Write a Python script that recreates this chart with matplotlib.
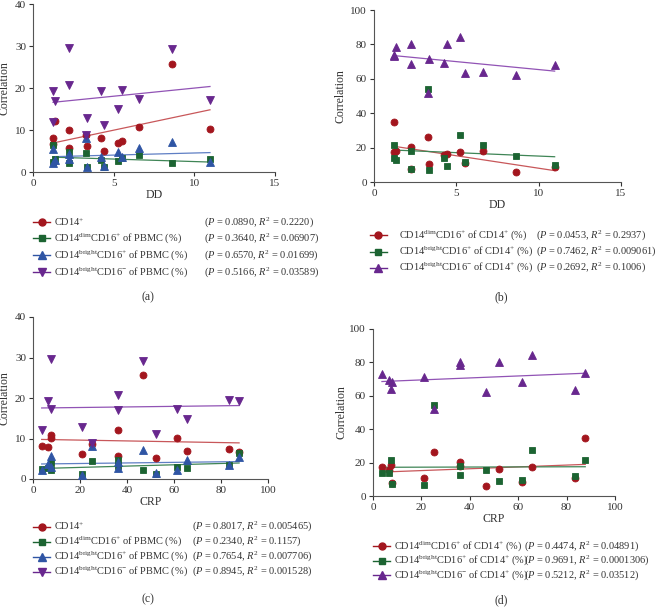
import numpy as np
import matplotlib
matplotlib.use("Agg")
from matplotlib import pyplot as plt
from matplotlib.lines import Line2D

plt.rcParams['font.family'] = ['Liberation Serif', 'DejaVu Serif']
plt.rcParams['mathtext.fontset'] = 'custom'
plt.rcParams['mathtext.rm'] = 'Liberation Serif'
plt.rcParams['mathtext.it'] = 'Liberation Serif:italic'

# one value per patient (14 patients)
dd = [1.24, 1.24, 1.36, 2.23, 2.25, 3.30, 3.33, 4.24, 4.42, 5.25, 5.54, 6.59, 8.64, 10.97]
crp = [87.7, 3.7, 36.0, 36.0, 7.7, 25.2, 21.0, 6.5, 52.2, 65.7, 83.4, 7.5, 46.9, 61.4]

cd14 = [6.6, 8.2, 12.1, 5.7, 10.1, 8.7, 6.2, 8.0, 5.1, 7.0, 7.4, 10.8, 25.7, 10.2]
dim_pbmc = [6.5, 2.5, 3.2, 4.8, 2.2, 4.5, 1.3, 2.8, 1.3, 2.6, 3.4, 4.0, 2.2, 3.0]
brpos_pbmc = [5.4, 2.2, 2.8, 4.3, 3.0, 8.2, 1.1, 3.6, 1.4, 4.8, 3.5, 5.6, 7.2, 2.3]
brneg_pbmc = [19.3, 12.0, 17.0, 20.8, 29.6, 8.8, 12.8, 19.2, 11.2, 14.9, 19.6, 17.4, 29.2, 17.2]

dim_cd14 = [34.7, 17.2, 18.0, 20.3, 7.8, 26.1, 10.5, 15.5, 16.4, 17.4, 11.0, 18.3, 5.7, 8.5]
brpos_cd14 = [21.3, 14.0, 12.6, 17.8, 7.3, 54.3, 6.8, 13.7, 9.2, 27.6, 11.7, 21.3, 15.4, 9.7]
brneg_cd14 = [73.6, 73.0, 78.5, 80.1, 68.4, 51.8, 71.5, 69.3, 80.5, 84.4, 63.4, 64.0, 62.0, 68.1]

lab_cd14 = 'CD14$^{+}$'
lab_dim_pbmc = 'CD14$^{\\mathrm{dim}}$CD16$^{+}$ of PBMC (%)'
lab_brpos_pbmc = 'CD14$^{\\mathrm{bright}}$CD16$^{+}$ of PBMC (%)'
lab_brneg_pbmc = 'CD14$^{\\mathrm{bright}}$CD16$^{-}$ of PBMC (%)'
lab_dim_cd14 = 'CD14$^{\\mathrm{dim}}$CD16$^{+}$ of CD14$^{+}$ (%)'
lab_brpos_cd14 = 'CD14$^{\\mathrm{bright}}$CD16$^{+}$ of CD14$^{+}$ (%)'
lab_brneg_cd14 = 'CD14$^{\\mathrm{bright}}$CD16$^{-}$ of CD14$^{+}$ (%)'

stats_a = [('0.0890', '0.2220'), ('0.3640', '0.06907'), ('0.6570', '0.01699'), ('0.5166', '0.03589')]
stats_b = [('0.0453', '0.2937'), ('0.7462', '0.009061'), ('0.2692', '0.1006')]
stats_c = [('0.8017', '0.005465'), ('0.2340', '0.1157'), ('0.7654', '0.007706'), ('0.8945', '0.001528')]
stats_d = [('0.4474', '0.04891'), ('0.9691', '0.0001306'), ('0.5212', '0.03512')]

RED, GREEN, BLUE, PURPLE = '#a3161e', '#1c6432', '#2f55a4', '#68278e'
LRED, LGREEN, LBLUE, LPURPLE = '#c8575a', '#3f8556', '#5f7fc4', '#9153b5'

W, H = 668, 613
fig = plt.figure(figsize=(W / 100, H / 100), dpi=100)


def ax_at(l, t, r, b):
    return fig.add_axes([l / W, 1 - b / H, (r - l) / W, (b - t) / H])


def panel(ax, x, series, xmax, ymax, xlabel, xticks, yticks, ylab_px):
    for y, c, lc, m, ms in series:
        ax.plot(x, y, ls='none', marker=m, ms=ms, color=c, mec=c, mew=0.6, zorder=3)
        k, b0 = np.polyfit(x, y, 1)
        xs = np.array([min(x), max(x)])
        ax.plot(xs, k * xs + b0, color=lc, lw=0.9, zorder=2)
    ax.set_xlim(0, xmax)
    ax.set_ylim(0, ymax)
    ax.set_xticks(xticks)
    ax.set_yticks(yticks)
    for s in ['top', 'right']:
        ax.spines[s].set_visible(False)
    for s in ['left', 'bottom']:
        ax.spines[s].set_color('#555555')
        ax.spines[s].set_linewidth(0.8)
    ax.tick_params(labelsize=8, colors='#333333', length=3, width=0.8, direction='out', pad=2)
    ax.set_ylabel('Correlation', fontsize=8.5, color='#333333')
    w_px = ax.get_position().width * W
    ax.yaxis.set_label_coords(-ylab_px / w_px, 0.5)
    ax.set_xlabel(xlabel, fontsize=8.5, color='#333333', labelpad=1)
    for ln in ax.lines:
        ln.set_clip_on(False)


def legend_rows(x0, xlab, xp, ys, items, stats):
    for yy, (c, m, ms, lab), (p, r2) in zip(ys, items, stats):
        fy = 1 - yy / H
        fig.add_artist(Line2D([x0 / W, (x0 + 17) / W], [fy, fy], color=c, lw=1.0,
                              transform=fig.transFigure))
        fig.add_artist(Line2D([(x0 + 8.5) / W], [fy], color=c, ls='none', marker=m, ms=ms,
                              transform=fig.transFigure))
        fig.text(xlab / W, fy, lab, fontsize=7.5, color='#333333', va='center', ha='left')
        fig.text(xp / W, fy, '($P$ = %s, $R^2$ = %s)' % (p, r2), fontsize=7.5,
                 color='#333333', va='center', ha='left')


four = [(RED, 'o', 5), (GREEN, 's', 5), (BLUE, '^', 5.5), (PURPLE, 'v', 5.5)]
three = [(RED, 'o', 5), (GREEN, 's', 5), (PURPLE, '^', 5.5)]

# (a)
ax = ax_at(33, 4, 275, 172)
panel(ax, dd, [(cd14, RED, LRED, 'o', 5), (dim_pbmc, GREEN, LGREEN, 's', 5),
               (brpos_pbmc, BLUE, LBLUE, '^', 5.5), (brneg_pbmc, PURPLE, LPURPLE, 'v', 5.5)],
      15, 40, 'DD', [0, 5, 10, 15], [0, 10, 20, 30, 40], 22)
labs4a = [lab_cd14, lab_dim_pbmc, lab_brpos_pbmc, lab_brneg_pbmc]
legend_rows(33, 54, 204, [222, 238.5, 255, 272],
            [(c, m, ms, l) for (c, m, ms), l in zip(four, labs4a)], stats_a)
fig.text(148 / W, 1 - 297 / H, '(a)', fontsize=8.5, color='#333333', ha='center', va='center')

# (b)
ax = ax_at(374, 10, 621, 182)
panel(ax, dd, [(dim_cd14, RED, LRED, 'o', 5), (brpos_cd14, GREEN, LGREEN, 's', 5),
               (brneg_cd14, PURPLE, LPURPLE, '^', 5.5)],
      15, 100, 'DD', [0, 5, 10, 15], [0, 20, 40, 60, 80, 100], 27)
labs3b = [lab_dim_cd14, lab_brpos_cd14, lab_brneg_cd14]
legend_rows(370, 399, 536, [235, 251.5, 267.5],
            [(c, m, ms, l) for (c, m, ms), l in zip(three, labs3b)], stats_b)
fig.text(501 / W, 1 - 297 / H, '(b)', fontsize=8.5, color='#333333', ha='center', va='center')

# (c)
ax = ax_at(33, 317, 268, 479)
panel(ax, crp, [(cd14, RED, LRED, 'o', 5), (dim_pbmc, GREEN, LGREEN, 's', 5),
                (brpos_pbmc, BLUE, LBLUE, '^', 5.5), (brneg_pbmc, PURPLE, LPURPLE, 'v', 5.5)],
      100, 40, 'CRP', [0, 20, 40, 60, 80, 100], [0, 10, 20, 30, 40], 22)
legend_rows(33, 54, 192, [526.5, 541.5, 556.5, 571.5],
            [(c, m, ms, l) for (c, m, ms), l in zip(four, labs4a)], stats_c)
fig.text(148 / W, 1 - 599 / H, '(c)', fontsize=8.5, color='#333333', ha='center', va='center')

# (d)
ax = ax_at(373, 329, 615, 496)
panel(ax, crp, [(dim_cd14, RED, LRED, 'o', 5), (brpos_cd14, GREEN, LGREEN, 's', 5),
                (brneg_cd14, PURPLE, LPURPLE, '^', 5.5)],
      100, 100, 'CRP', [0, 20, 40, 60, 80, 100], [0, 20, 40, 60, 80, 100], 26)
legend_rows(373, 394, 524, [546, 560.5, 575],
            [(c, m, ms, l) for (c, m, ms), l in zip(three, labs3b)], stats_d)
fig.text(501 / W, 1 - 600 / H, '(d)', fontsize=8.5, color='#333333', ha='center', va='center')

fig.savefig('out.png', dpi=100)
